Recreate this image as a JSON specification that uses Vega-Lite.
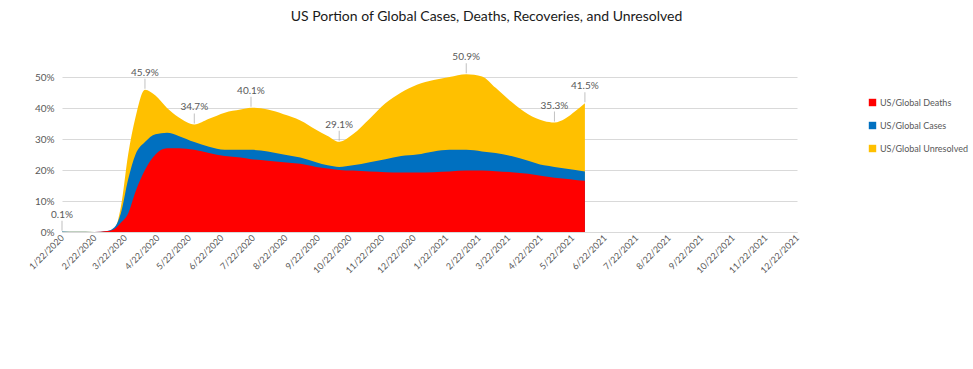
{
  "$schema": "https://vega.github.io/schema/vega-lite/v6.json",
  "autosize": "none",
  "width": 735,
  "height": 155,
  "padding": {"left": 62, "top": 77, "right": 176, "bottom": 137},
  "background": "white",
  "title": {
    "text": "US Portion of Global Cases, Deaths, Recoveries, and Unresolved",
    "font": "Lato",
    "fontSize": 14,
    "fontWeight": "normal",
    "color": "#1a1a1a",
    "anchor": "middle",
    "dx": 57,
    "offset": 28
  },
  "datasets": {
    "series": [
      {"date": "2020-01-22", "deaths": 0.0, "cases": 0.002, "unresolved": 0.001},
      {"date": "2020-02-05", "deaths": 0.0, "cases": 0.0005, "unresolved": 0.0005},
      {"date": "2020-02-22", "deaths": 0.0, "cases": 0.0002, "unresolved": 0.0002},
      {"date": "2020-03-05", "deaths": 0.003, "cases": 0.003, "unresolved": 0.002},
      {"date": "2020-03-12", "deaths": 0.01, "cases": 0.015, "unresolved": 0.01},
      {"date": "2020-03-18", "deaths": 0.03, "cases": 0.06, "unresolved": 0.08},
      {"date": "2020-03-25", "deaths": 0.06, "cases": 0.17, "unresolved": 0.25},
      {"date": "2020-04-01", "deaths": 0.13, "cases": 0.25, "unresolved": 0.37},
      {"date": "2020-04-10", "deaths": 0.20, "cases": 0.29, "unresolved": 0.459},
      {"date": "2020-04-20", "deaths": 0.25, "cases": 0.315, "unresolved": 0.44},
      {"date": "2020-05-01", "deaths": 0.27, "cases": 0.32, "unresolved": 0.40},
      {"date": "2020-05-12", "deaths": 0.27, "cases": 0.31, "unresolved": 0.37},
      {"date": "2020-05-27", "deaths": 0.265, "cases": 0.29, "unresolved": 0.347},
      {"date": "2020-06-10", "deaths": 0.255, "cases": 0.275, "unresolved": 0.365},
      {"date": "2020-06-25", "deaths": 0.245, "cases": 0.265, "unresolved": 0.385},
      {"date": "2020-07-10", "deaths": 0.24, "cases": 0.265, "unresolved": 0.395},
      {"date": "2020-07-20", "deaths": 0.235, "cases": 0.265, "unresolved": 0.401},
      {"date": "2020-08-05", "deaths": 0.23, "cases": 0.26, "unresolved": 0.395},
      {"date": "2020-08-20", "deaths": 0.225, "cases": 0.25, "unresolved": 0.38},
      {"date": "2020-09-05", "deaths": 0.22, "cases": 0.24, "unresolved": 0.36},
      {"date": "2020-09-20", "deaths": 0.21, "cases": 0.225, "unresolved": 0.33},
      {"date": "2020-10-01", "deaths": 0.205, "cases": 0.215, "unresolved": 0.31},
      {"date": "2020-10-12", "deaths": 0.20, "cases": 0.21, "unresolved": 0.291},
      {"date": "2020-10-25", "deaths": 0.198, "cases": 0.215, "unresolved": 0.315},
      {"date": "2020-11-10", "deaths": 0.195, "cases": 0.225, "unresolved": 0.365},
      {"date": "2020-11-25", "deaths": 0.193, "cases": 0.235, "unresolved": 0.415},
      {"date": "2020-12-10", "deaths": 0.192, "cases": 0.245, "unresolved": 0.45},
      {"date": "2020-12-25", "deaths": 0.192, "cases": 0.25, "unresolved": 0.475},
      {"date": "2021-01-10", "deaths": 0.193, "cases": 0.26, "unresolved": 0.49},
      {"date": "2021-01-25", "deaths": 0.195, "cases": 0.265, "unresolved": 0.50},
      {"date": "2021-02-10", "deaths": 0.198, "cases": 0.265, "unresolved": 0.509},
      {"date": "2021-02-25", "deaths": 0.198, "cases": 0.26, "unresolved": 0.502},
      {"date": "2021-03-10", "deaths": 0.196, "cases": 0.255, "unresolved": 0.465},
      {"date": "2021-03-25", "deaths": 0.193, "cases": 0.245, "unresolved": 0.42},
      {"date": "2021-04-10", "deaths": 0.188, "cases": 0.23, "unresolved": 0.38},
      {"date": "2021-04-25", "deaths": 0.18, "cases": 0.215, "unresolved": 0.358},
      {"date": "2021-05-05", "deaths": 0.175, "cases": 0.21, "unresolved": 0.353},
      {"date": "2021-05-15", "deaths": 0.172, "cases": 0.205, "unresolved": 0.365},
      {"date": "2021-05-25", "deaths": 0.168, "cases": 0.20, "unresolved": 0.39},
      {"date": "2021-06-03", "deaths": 0.165, "cases": 0.195, "unresolved": 0.415}
    ],
    "labels": [
      {"date": "2020-01-22", "value": 0.001},
      {"date": "2020-04-10", "value": 0.459},
      {"date": "2020-05-27", "value": 0.347},
      {"date": "2020-07-20", "value": 0.401},
      {"date": "2020-10-12", "value": 0.291},
      {"date": "2021-02-10", "value": 0.509},
      {"date": "2021-05-05", "value": 0.353},
      {"date": "2021-06-03", "value": 0.415}
    ]
  },
  "data": {"name": "series"},
  "encoding": {
    "x": {
      "field": "date",
      "type": "temporal",
      "scale": {"type": "utc", "domain": [{"year": 2020, "month": 1, "date": 22, "utc": true}, {"year": 2021, "month": 12, "date": 22, "utc": true}]},
      "axis": {
        "title": null,
        "format": "%-m/%-d/%Y",
        "labelAngle": -45,
        "labelAlign": "right",
        "labelBaseline": "middle",
        "labelFont": "Lato",
        "labelFontSize": 9,
        "labelColor": "#595959",
        "labelPadding": 4,
        "ticks": false,
        "grid": false,
        "domainColor": "#D9D9D9",
        "labelOverlap": false,
        "values": [
          {"year": 2020, "month": 1, "date": 22, "utc": true},
          {"year": 2020, "month": 2, "date": 22, "utc": true},
          {"year": 2020, "month": 3, "date": 22, "utc": true},
          {"year": 2020, "month": 4, "date": 22, "utc": true},
          {"year": 2020, "month": 5, "date": 22, "utc": true},
          {"year": 2020, "month": 6, "date": 22, "utc": true},
          {"year": 2020, "month": 7, "date": 22, "utc": true},
          {"year": 2020, "month": 8, "date": 22, "utc": true},
          {"year": 2020, "month": 9, "date": 22, "utc": true},
          {"year": 2020, "month": 10, "date": 22, "utc": true},
          {"year": 2020, "month": 11, "date": 22, "utc": true},
          {"year": 2020, "month": 12, "date": 22, "utc": true},
          {"year": 2021, "month": 1, "date": 22, "utc": true},
          {"year": 2021, "month": 2, "date": 22, "utc": true},
          {"year": 2021, "month": 3, "date": 22, "utc": true},
          {"year": 2021, "month": 4, "date": 22, "utc": true},
          {"year": 2021, "month": 5, "date": 22, "utc": true},
          {"year": 2021, "month": 6, "date": 22, "utc": true},
          {"year": 2021, "month": 7, "date": 22, "utc": true},
          {"year": 2021, "month": 8, "date": 22, "utc": true},
          {"year": 2021, "month": 9, "date": 22, "utc": true},
          {"year": 2021, "month": 10, "date": 22, "utc": true},
          {"year": 2021, "month": 11, "date": 22, "utc": true},
          {"year": 2021, "month": 12, "date": 22, "utc": true}
        ]
      }
    },
    "y": {
      "type": "quantitative",
      "stack": null,
      "scale": {"domain": [0, 0.5], "nice": false},
      "axis": {
        "title": null,
        "format": ".0%",
        "values": [0, 0.1, 0.2, 0.3, 0.4, 0.5],
        "labelOverlap": false,
        "labelFont": "Lato",
        "labelFontSize": 10,
        "labelColor": "#595959",
        "labelPadding": 8,
        "ticks": false,
        "domain": false,
        "gridColor": "#D9D9D9"
      }
    }
  },
  "layer": [
    {
      "mark": {"type": "area", "interpolate": "monotone"},
      "encoding": {
        "y": {"field": "unresolved"},
        "color": {
          "datum": "US/Global Unresolved",
          "scale": {
            "domain": ["US/Global Deaths", "US/Global Cases", "US/Global Unresolved"],
            "range": ["#FF0000", "#0070C0", "#FFC000"]
          },
          "legend": {
            "title": null,
            "orient": "none",
            "legendX": 806,
            "legendY": 21,
            "symbolType": "square",
            "symbolSize": 55,
            "symbolStrokeWidth": 0,
            "labelFont": "Lato",
            "labelFontSize": 9,
            "labelColor": "#595959",
            "rowPadding": 13,
            "labelOffset": 3
          }
        }
      }
    },
    {
      "mark": {"type": "area", "interpolate": "monotone"},
      "encoding": {
        "y": {"field": "cases"},
        "color": {"datum": "US/Global Cases"}
      }
    },
    {
      "mark": {"type": "area", "interpolate": "monotone"},
      "encoding": {
        "y": {"field": "deaths"},
        "color": {"datum": "US/Global Deaths"}
      }
    },
    {
      "data": {"name": "labels"},
      "mark": {"type": "tick", "orient": "vertical", "size": 10, "thickness": 1, "yOffset": -6, "color": "#A6A6A6"},
      "encoding": {
        "y": {"field": "value"}
      }
    },
    {
      "data": {"name": "labels"},
      "mark": {"type": "text", "font": "Lato", "fontSize": 10, "color": "#595959", "dy": -12, "baseline": "bottom"},
      "encoding": {
        "y": {"field": "value"},
        "text": {"field": "value", "type": "quantitative", "format": ".1%"}
      }
    }
  ],
  "config": {"view": {"stroke": null}}
}
